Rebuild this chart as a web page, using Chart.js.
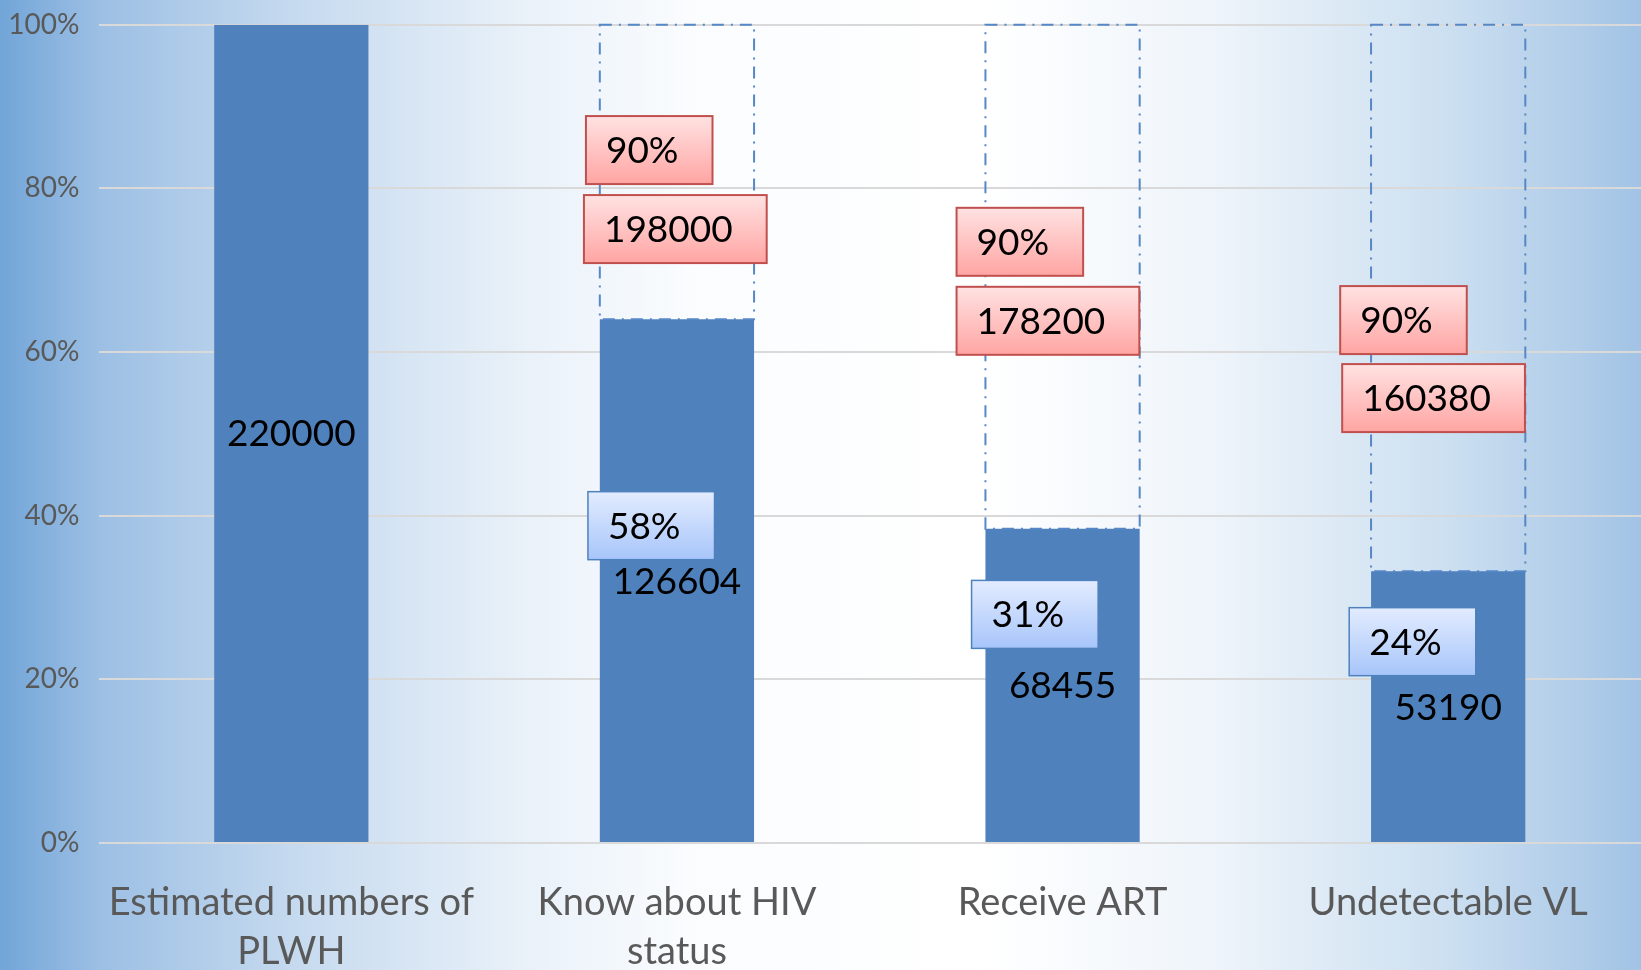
<!DOCTYPE html>
<html>
<head>
<meta charset="utf-8">
<script src="https://cdn.jsdelivr.net/npm/chart.js@4/dist/chart.umd.min.js"></script>
<style>
  html, body { margin: 0; padding: 0; background: #fff; }
  #wrap { width: 1641px; height: 970px; position: relative; }
</style>
</head>
<body>
<div id="wrap"><canvas id="grafico"></canvas></div>
<script>
// datos
const categorias = [['Estimated numbers of', 'PLWH'], ['Know about HIV', 'status'], ['Receive ART'], ['Undetectable VL']];
const cantidades = [220000, 126604, 68455, 53190];
const metas = [null, 198000, 178200, 160380];
const metaPct = [null, '90%', '90%', '90%'];
const totalPct = [null, '58%', '31%', '24%'];
// altura de la barra azul dentro de la columna (cantidad / meta)
const alturaBarra = [1.00, 0.64, 0.384, 0.332];
const alturaResto = [null, 0.36, 0.616, 0.668];
const ticksY = [0, 0.2, 0.4, 0.6, 0.8, 1];

// posiciones de las cajas de texto (izquierda, centro vertical) relativas a la barra
const posMetaPct = [null, [-91, -22], [-106, -35], [-108, 22]];
const posMetaNum = [null, [-93, 57], [-106, 44], [-106, 100]];
const posTotalPct = [null, [-89, -55], [-91, -71], [-99, -65]];

const AZUL = '#4f81bd';
const FUENTE = 'Lato, "Open Sans", sans-serif';

// fondo degradado horizontal
const fondo = {
    id: 'fondo',
    beforeDraw(chart) {
        const ctx = chart.ctx, w = chart.width, h = chart.height;
        const g = ctx.createLinearGradient(0, 0, w, 0);
        g.addColorStop(0, '#72a5d8');
        g.addColorStop(0.06, '#9cbfe4');
        g.addColorStop(0.18, '#c6daef');
        g.addColorStop(0.32, '#e9f1f9');
        g.addColorStop(0.42, '#fafcfe');
        g.addColorStop(0.6, '#ffffff');
        g.addColorStop(0.74, '#eef4fa');
        g.addColorStop(0.88, '#cde0f1');
        g.addColorStop(1, '#a2c3e5');
        ctx.save();
        ctx.fillStyle = g;
        ctx.fillRect(0, 0, w, h);
        ctx.restore();
    }
};

function caja(ctx, texto, x, yc, estilo) {
    ctx.font = '37px ' + FUENTE;
    const tw = ctx.measureText(texto).width;
    const w = tw + 54, h = 68, y = yc - h / 2;
    const g = ctx.createLinearGradient(0, y, 0, y + h);
    g.addColorStop(0, estilo[0]);
    g.addColorStop(1, estilo[1]);
    ctx.fillStyle = g;
    ctx.fillRect(x, y, w, h);
    ctx.lineWidth = estilo[3];
    ctx.strokeStyle = estilo[2];
    ctx.strokeRect(x, y, w, h);
    ctx.fillStyle = '#000';
    ctx.textAlign = 'left';
    ctx.textBaseline = 'middle';
    ctx.fillText(texto, x + 20, yc + 1);
}

// contorno punteado de la meta y etiquetas
const etiquetas = {
    id: 'etiquetas',
    afterDatasetsDraw(chart) {
        const ctx = chart.ctx;
        const barras = chart.getDatasetMeta(0).data;
        const restos = chart.getDatasetMeta(1).data;
        ctx.save();

        ctx.strokeStyle = '#5687c6';
        ctx.lineWidth = 2;
        ctx.setLineDash([12, 7, 2, 7]);
        restos.forEach((el, i) => {
            if (alturaResto[i] == null) return;
            const x0 = el.x - el.width / 2;
            ctx.strokeRect(x0, el.y, el.width, el.base - el.y);
        });
        ctx.setLineDash([]);

        const rojo = ['#ffe2e2', '#ffa5a3', '#c0504d', 2];
        const celeste = ['#e3ecff', '#a7c5fa', AZUL, 1.5];

        barras.forEach((el, i) => {
            const yc = (el.y + el.base) / 2;
            if (totalPct[i]) {
                caja(ctx, totalPct[i], el.x + posTotalPct[i][0], yc + posTotalPct[i][1], celeste);
            }
            ctx.font = '37px ' + FUENTE;
            ctx.fillStyle = '#000';
            ctx.textAlign = 'center';
            ctx.textBaseline = 'middle';
            ctx.fillText(String(cantidades[i]), el.x, yc + 1);
        });

        restos.forEach((el, i) => {
            if (metas[i] == null) return;
            const yc = (el.y + el.base) / 2;
            caja(ctx, metaPct[i], el.x + posMetaPct[i][0], yc + posMetaPct[i][1], rojo);
            caja(ctx, String(metas[i]), el.x + posMetaNum[i][0], yc + posMetaNum[i][1], rojo);
        });
        ctx.restore();
    }
};

new Chart(document.getElementById('grafico').getContext('2d'), {
    type: 'bar',
    data: {
        labels: categorias,
        datasets: [
            { data: alturaBarra, backgroundColor: AZUL, borderWidth: 0, barPercentage: 0.4, categoryPercentage: 1 },
            { data: alturaResto, backgroundColor: 'rgba(0,0,0,0)', borderWidth: 0, barPercentage: 0.4, categoryPercentage: 1 }
        ]
    },
    options: {
        responsive: true,
        maintainAspectRatio: false,
        animation: false,
        layout: { padding: { top: 0, right: 0, left: 0, bottom: 0 } },
        plugins: { legend: { display: false }, tooltip: { enabled: false } },
        scales: {
            x: {
                stacked: true,
                grid: { display: false, drawTicks: false },
                border: { display: false },
                ticks: {
                    color: '#595959',
                    padding: 35,
                    maxRotation: 0,
                    autoSkip: false,
                    font: { family: FUENTE, size: 38, lineHeight: 1.3 }
                },
                afterFit(scale) { scale.height = 127; }
            },
            y: {
                stacked: true,
                min: 0,
                max: 1,
                afterBuildTicks(scale) { scale.ticks = ticksY.map(v => ({ value: v })); },
                grid: { color: '#d9d9d9', lineWidth: 2, drawTicks: true, tickLength: 11, tickColor: 'rgba(0,0,0,0)' },
                border: { display: false },
                ticks: {
                    color: '#595959',
                    padding: 8,
                    font: { family: FUENTE, size: 28 },
                    callback: v => Math.round(v * 100) + '%'
                },
                afterFit(scale) { scale.width = 98.5; }
            }
        }
    },
    plugins: [fondo, etiquetas]
});
</script>
</body>
</html>
